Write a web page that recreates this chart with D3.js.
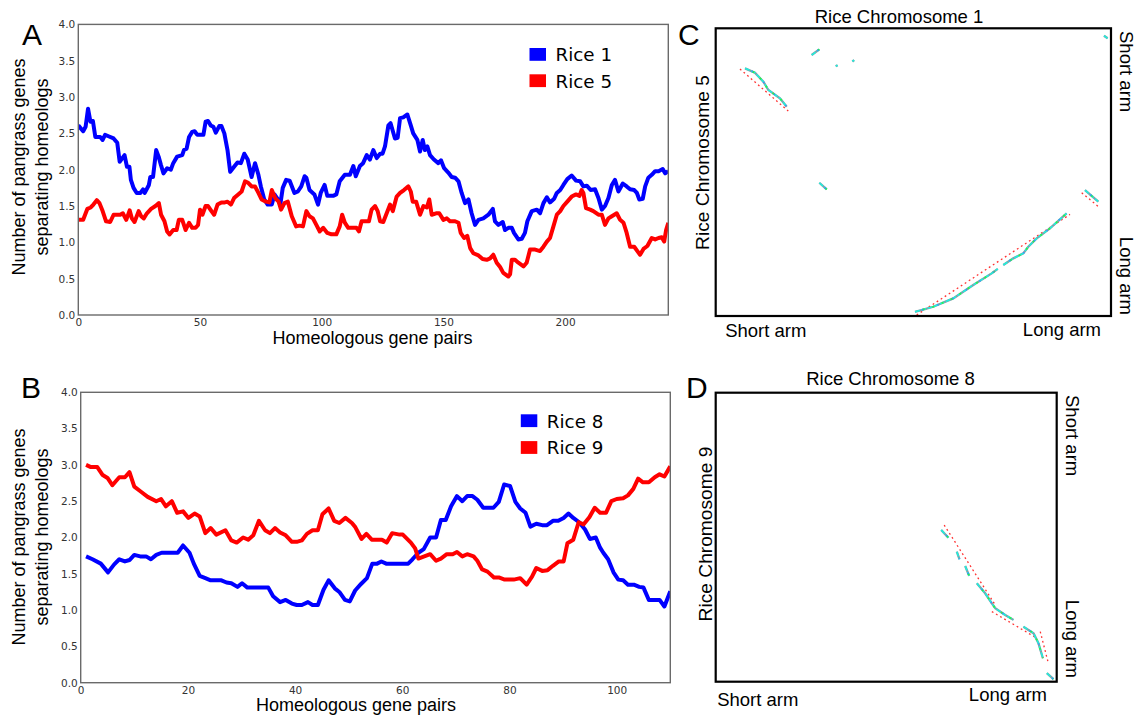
<!DOCTYPE html>
<html>
<head>
<meta charset="utf-8">
<script src="https://cdn.jsdelivr.net/npm/d3@7/dist/d3.min.js"></script>
<style>
  html, body { margin: 0; padding: 0; background: #fff; }
  svg { display: block; }
</style>
</head>
<body>
<svg id="fig" width="1135" height="719"></svg>
<script>
// ---- Sliding-window counts of pangrass genes separating homeolog pairs ----
// Each entry: [homeologous gene pair index, number of pangrass genes]
const rice1 = [[0,2.61],[2,2.53],[3,2.59],[4,2.84],[5,2.66],[6,2.67],[7,2.45],[9,2.45],[10,2.41],[11,2.48],[12.4,2.46],[14.5,2.43],[16,2.37],[17,2.11],[19,2.20],[20,2.04],[21,2.04],[21.6,1.86],[22.7,1.75],[24,1.68],[25.5,1.68],[26.6,1.73],[27.3,1.68],[29,1.79],[29.6,1.90],[30.7,1.90],[32,2.27],[33,2.18],[34,2.06],[35,1.95],[36.5,2.02],[38,2.0],[39,2.09],[40.6,2.18],[42.7,2.20],[43.4,2.27],[44.5,2.29],[45.5,2.45],[46.8,2.52],[47.8,2.53],[48.9,2.48],[51.4,2.48],[52.3,2.66],[53.3,2.67],[54.4,2.61],[55.5,2.59],[56.5,2.51],[57.9,2.60],[58.8,2.60],[60,2.50],[61.3,2.27],[62.4,1.97],[64,2.04],[65.4,2.10],[66.8,2.09],[68.2,2.22],[69.6,2.14],[71.2,1.90],[72.6,2.09],[74,1.93],[75,1.77],[76.4,1.59],[77.8,1.52],[79.5,1.52],[80.6,1.66],[82,1.59],[83,1.52],[84,1.75],[85.4,1.86],[86.8,1.85],[88.8,1.68],[90.2,1.70],[91.6,1.77],[93,1.91],[93.7,1.89],[95,1.72],[97,1.66],[98.5,1.52],[99.6,1.68],[101.2,1.79],[102.3,1.64],[104.7,1.64],[106,1.66],[107.4,1.84],[109.5,1.93],[111.6,1.93],[113,2.05],[114,1.91],[115.7,2.05],[117,2.09],[118.5,2.20],[119.8,2.14],[121.2,2.27],[122.6,2.16],[124,2.22],[125,2.22],[126,2.32],[127.4,2.61],[128.3,2.64],[130.1,2.43],[131.2,2.44],[132.2,2.71],[133.5,2.72],[135.2,2.76],[136.6,2.61],[137.6,2.50],[139.3,2.41],[140.4,2.25],[141.5,2.41],[142.4,2.27],[143.4,2.32],[144.5,2.20],[146.1,2.14],[147.9,2.09],[149,2.13],[150.3,2.02],[152,1.96],[153.4,1.90],[154.8,1.89],[156.2,1.84],[157.5,1.68],[158.9,1.54],[160.3,1.59],[161.6,1.40],[163,1.24],[164.4,1.31],[166.4,1.33],[168.5,1.38],[170.3,1.46],[171.2,1.29],[172.6,1.24],[174.4,1.28],[175.3,1.17],[176.7,1.20],[178.1,1.20],[179,1.13],[180.8,1.04],[182.2,1.05],[183.5,1.13],[184.5,1.29],[186.3,1.43],[188.4,1.45],[189.7,1.40],[191.1,1.54],[192.5,1.62],[193.8,1.55],[195.5,1.60],[196.6,1.68],[198,1.72],[199.3,1.79],[200.9,1.87],[202.7,1.92],[204.5,1.85],[206.2,1.84],[207.5,1.77],[208.9,1.78],[210.5,1.72],[212.3,1.73],[213.7,1.61],[215.1,1.45],[216.4,1.50],[217.8,1.61],[219.2,1.79],[220.5,1.86],[221.9,1.70],[223.7,1.81],[225.3,1.77],[226.7,1.73],[228.4,1.72],[229.5,1.68],[230.5,1.59],[231.9,1.60],[232.9,1.77],[234.2,1.89],[235.6,1.93],[237,1.98],[238.4,1.98],[240.1,2.01],[241.1,1.95],[242.4,1.98]];

const rice5 = [[0,1.31],[2,1.31],[3.7,1.46],[5.1,1.48],[6.2,1.52],[7.6,1.58],[8.7,1.54],[10,1.43],[11.4,1.29],[13.1,1.28],[14.5,1.38],[17.2,1.38],[18.3,1.40],[19.7,1.31],[21.1,1.44],[22,1.33],[23.1,1.28],[24.8,1.43],[25.8,1.36],[26.9,1.33],[28.2,1.40],[29.9,1.46],[31.7,1.50],[33.1,1.54],[34,1.38],[35.4,1.29],[36.5,1.15],[37.5,1.11],[39,1.17],[40.4,1.17],[41.3,1.31],[42.7,1.31],[44.1,1.17],[45.5,1.27],[46.8,1.20],[48.2,1.20],[49.2,1.24],[50,1.45],[51,1.38],[52.3,1.50],[53.3,1.50],[54.7,1.43],[55.8,1.38],[57.2,1.52],[58.8,1.55],[60.2,1.55],[61.3,1.56],[62.7,1.52],[64,1.61],[65.7,1.66],[67.1,1.70],[68.5,1.84],[69.8,1.82],[71.2,1.77],[72.6,1.77],[74,1.68],[75.3,1.59],[77.1,1.56],[78.5,1.55],[79.5,1.72],[80.9,1.61],[82.3,1.56],[83.3,1.45],[84.7,1.54],[86.1,1.56],[87.7,1.36],[89.5,1.22],[90.9,1.23],[92.3,1.22],[93.7,1.43],[95,1.36],[96.4,1.33],[97.8,1.24],[99.2,1.15],[100.6,1.20],[102.3,1.13],[104,1.11],[106,1.11],[107.4,1.22],[108.4,1.38],[109.5,1.27],[110.9,1.20],[112.3,1.20],[114.3,1.20],[115.3,1.15],[116.4,1.29],[117.8,1.29],[119.4,1.29],[120.5,1.45],[121.9,1.50],[123,1.43],[124,1.29],[125.3,1.28],[126.7,1.40],[128.1,1.52],[129.2,1.43],[130.8,1.63],[132.2,1.68],[133.8,1.72],[135.6,1.77],[136.6,1.70],[137.4,1.56],[138.8,1.56],[140.4,1.38],[141.8,1.50],[143.2,1.48],[144.2,1.59],[145.2,1.38],[147,1.40],[148.3,1.40],[150,1.31],[151.4,1.33],[152.7,1.29],[154.8,1.29],[156.2,1.27],[157.1,1.13],[158.5,1.06],[159.8,1.09],[161,0.92],[162.3,0.85],[164.4,0.82],[166.1,0.77],[167.8,0.76],[169.2,0.78],[170.5,0.83],[171.9,0.72],[173.3,0.66],[174.6,0.58],[176.7,0.53],[177.4,0.56],[178.1,0.76],[179.4,0.76],[180.8,0.72],[182.9,0.67],[184.2,0.72],[185.6,0.90],[187.7,0.90],[189.7,0.88],[191.1,0.94],[192.5,1.01],[193.8,1.06],[195.2,1.22],[196.6,1.38],[198,1.43],[199.3,1.50],[200.9,1.56],[202.7,1.63],[204.5,1.66],[205.9,1.64],[206.8,1.72],[207.5,1.68],[208.6,1.47],[210.3,1.45],[211.6,1.43],[213.7,1.38],[215.1,1.38],[216.4,1.24],[217.8,1.33],[219.2,1.36],[221.2,1.40],[222.6,1.31],[224,1.27],[225.3,1.13],[226.7,0.94],[228.4,0.94],[229.7,0.88],[230.8,0.83],[232.2,0.91],[233.8,0.95],[235.6,1.06],[237,1.04],[238.4,1.06],[239.7,1.07],[240.7,1.01],[241.5,1.17],[242.4,1.27]];

const rice8 = [[1,1.74],[2.2,1.70],[3.75,1.64],[5.1,1.52],[6.25,1.63],[7.2,1.70],[8.25,1.67],[9.1,1.69],[10,1.76],[11.1,1.74],[12.2,1.74],[13.1,1.70],[14.1,1.76],[15.1,1.79],[16.25,1.79],[18.1,1.79],[19.1,1.89],[20.3,1.79],[21.1,1.64],[22.2,1.47],[23.25,1.44],[24.25,1.41],[26.25,1.41],[27.2,1.38],[28.1,1.37],[29.25,1.32],[30.1,1.37],[31.1,1.31],[32.2,1.31],[35,1.31],[35.9,1.19],[37.2,1.11],[38.25,1.14],[39.4,1.09],[40.3,1.07],[41.25,1.07],[42.4,1.11],[43.25,1.07],[44.25,1.07],[45.3,1.28],[46.25,1.41],[47.4,1.30],[48.25,1.25],[49.3,1.14],[50.2,1.12],[51.2,1.27],[52.3,1.36],[53.4,1.44],[54.4,1.64],[55.3,1.64],[56.1,1.67],[57,1.64],[61.1,1.64],[61.9,1.70],[63,1.79],[64,1.84],[65.2,2.00],[66.3,2.00],[67.2,2.24],[68.1,2.24],[69.1,2.43],[70.2,2.57],[71.2,2.50],[72.1,2.57],[73.1,2.57],[74,2.52],[75.1,2.41],[77,2.41],[78,2.49],[79,2.73],[80.1,2.71],[81.1,2.49],[82,2.40],[83,2.34],[83.9,2.15],[85,2.19],[86.1,2.17],[87,2.17],[88.1,2.23],[89.1,2.23],[90.1,2.27],[91,2.33],[91.9,2.27],[93,2.21],[94.1,2.11],[95,1.98],[96.1,2.00],[96.9,1.86],[97.5,1.79],[98.4,1.70],[99.4,1.52],[100.3,1.42],[101.2,1.41],[102.1,1.35],[103.2,1.35],[104.2,1.32],[105,1.31],[106,1.14],[108,1.14],[108.9,1.05],[110,1.26]];

const rice9 = [[1,3.00],[1.9,2.97],[3.1,2.97],[4.1,2.86],[5,2.82],[5.9,2.72],[7.2,2.83],[8.25,2.83],[9.1,2.90],[10,2.70],[11.25,2.63],[12.5,2.56],[14.1,2.50],[15,2.53],[15.9,2.43],[17,2.50],[18,2.34],[19.1,2.36],[20.1,2.27],[21.25,2.33],[22.2,2.29],[23.25,2.06],[24.25,2.13],[25.3,2.04],[27,2.10],[28.1,1.96],[29.1,1.93],[30.3,2.00],[31.25,1.97],[32.2,2.03],[33.25,2.23],[34.4,2.10],[35.3,2.06],[36.25,2.13],[37.2,2.07],[38.25,2.03],[39.4,1.94],[40.3,1.94],[41.25,1.96],[42.2,2.05],[43.25,2.10],[44.25,2.10],[45.1,2.32],[46.25,2.40],[47.3,2.23],[48.25,2.20],[49.4,2.27],[50.6,2.20],[51.25,2.14],[52.4,1.98],[53.3,2.05],[54.3,1.97],[56.2,1.97],[57.1,1.93],[58.1,2.06],[59.5,2.04],[60.1,2.04],[61.6,1.93],[62.4,1.85],[63,1.71],[64.1,1.74],[65.2,1.77],[66.3,1.68],[67.2,1.71],[68.3,1.77],[69.4,1.77],[70.2,1.80],[71.2,1.74],[72.1,1.77],[73.3,1.74],[74,1.68],[74.9,1.56],[75.9,1.53],[77.1,1.45],[78,1.45],[79.1,1.42],[80.8,1.42],[82,1.44],[83.2,1.35],[84.2,1.46],[85,1.58],[86.1,1.54],[87.1,1.55],[88.1,1.61],[89.2,1.67],[90.1,1.67],[90.8,1.92],[91.9,1.97],[92.9,2.21],[93.8,2.18],[94.9,2.28],[95.9,2.41],[96.9,2.34],[98,2.34],[99,2.50],[100,2.53],[101.2,2.54],[102.1,2.58],[103.1,2.67],[104,2.81],[104.9,2.76],[106,2.76],[107.1,2.83],[108,2.87],[108.9,2.84],[110,2.98]];

const yTicks = [0, 0.5, 1, 1.5, 2, 2.5, 3, 3.5, 4];
const xTicksA = [0, 50, 100, 150, 200];
const xTicksB = [0, 20, 40, 60, 80, 100];
const legendA = ["Rice 1", "Rice 5"];
const legendB = ["Rice 8", "Rice 9"];

// ---- Syntenic dot plots (positions in Mb along each chromosome) ----
const chr1Length = 43.3, chr5Length = 29.9, chr8Length = 28.4, chr9Length = 23.0;

// collinear gene blocks, chromosome 1 (x) vs chromosome 5 (y)
const blocks1v5 = [
  [[3.21,4.16],[4.30,4.61],[5.22,5.55],[5.77,6.41],[7.04,7.28],[7.78,8.15]],
  [[10.51,2.78],[11.35,2.19]],
  [[13.15,3.95],[13.35,3.83]],
  [[14.97,3.45],[15.17,3.30]],
  [[11.35,16.05],[12.16,16.74]],
  [[42.53,0.77],[42.93,1.04]],
  [[40.45,16.81],[41.91,18.02]],
  [[21.83,29.46],[23.83,28.94],[26.02,28.07],[28.21,26.68],[30.23,25.47],[30.9,25.0]],
  [[31.5,24.6],[32.60,23.91],[33.69,23.39],[34.24,22.70],[35.16,21.83],[36.61,20.79],[38.44,19.23]]
];
// fitted homeologous segments, chromosome 1 vs chromosome 5
const fits1v5 = [
  [[2.66,4.23],[7.95,8.60]],
  [[40.09,17.09],[42.02,18.61]],
  [[22.01,29.80],[38.81,19.34]]
];

// collinear gene blocks, chromosome 8 (x) vs chromosome 9 (y)
const blocks8v9 = [
  [[18.78,10.92],[19.38,11.54]],
  [[20.08,12.65],[20.30,13.25]],
  [[20.78,13.79],[21.11,14.58]],
  [[21.75,15.17],[22.44,15.96],[23.0,16.76],[23.28,17.15],[24.11,17.69],[24.80,18.08]],
  [[25.63,18.62],[26.47,19.14],[26.88,19.94],[27.25,21.13]],
  [[27.58,22.32],[28.13,22.80]]
];
const fits8v9 = [
  [[19.03,10.53],[23.28,16.89]],
  [[23.0,17.42],[26.75,19.54]],
  [[27.03,19.01],[27.67,21.40]]
];

const svg = d3.select("#fig");
const TICK_FONT = "'DejaVu Sans', sans-serif";
const LABEL_FONT = "'Liberation Sans', Arial, sans-serif";

// ---------- line panels ----------
function linePanel(cfg) {
  const x = d3.scaleLinear().domain(cfg.xDomain).range([cfg.left, cfg.right]);
  const y = d3.scaleLinear().domain([0, 4]).range([cfg.bottom, cfg.top]);
  const g = svg.append("g");

  const clipId = "clip" + cfg.letter;
  svg.append("clipPath").attr("id", clipId)
    .append("rect").attr("x", cfg.left).attr("y", cfg.top - 3)
    .attr("width", cfg.right - cfg.left).attr("height", cfg.bottom - cfg.top + 3);

  const line = d3.line().x(d => x(d[0])).y(d => y(d[1]));
  cfg.series.forEach(s => {
    g.append("path").datum(s.data)
      .attr("clip-path", `url(#${clipId})`)
      .attr("d", line)
      .attr("fill", "none")
      .attr("stroke", s.color)
      .attr("stroke-width", 4)
      .attr("stroke-linejoin", "round")
      .attr("stroke-linecap", "butt");
  });

  // frame
  g.append("rect")
    .attr("x", cfg.left).attr("y", cfg.top)
    .attr("width", cfg.right - cfg.left).attr("height", cfg.bottom - cfg.top)
    .attr("fill", "none").attr("stroke", "#6a6a6a").attr("stroke-width", 1.4);

  const yAxis = g.append("g").attr("transform", `translate(${cfg.left},0)`)
    .call(d3.axisLeft(y).tickValues(yTicks).tickSize(0).tickPadding(3).tickFormat(d3.format(".1f")));
  const xAxis = g.append("g").attr("transform", `translate(0,${cfg.bottom})`)
    .call(d3.axisBottom(x).tickValues(cfg.xTicks).tickSize(0).tickPadding(4).tickFormat(d3.format("d")));
  [yAxis, xAxis].forEach(a => {
    a.select(".domain").remove();
    a.selectAll("text").attr("font-family", TICK_FONT).attr("font-size", 10.5).attr("fill", "#333");
  });

  // axis titles
  g.append("text")
    .attr("x", cfg.xTitleX).attr("y", cfg.bottom + 28.5)
    .attr("text-anchor", "middle")
    .attr("font-family", LABEL_FONT).attr("font-size", 18).attr("fill", "#000")
    .text("Homeologous gene pairs");
  const yt = g.append("text")
    .attr("transform", `translate(25,${cfg.yTitleY}) rotate(-90)`)
    .attr("text-anchor", "middle")
    .attr("font-family", LABEL_FONT).attr("font-size", 18).attr("fill", "#000");
  yt.append("tspan").attr("x", 0).attr("y", 0).text("Number of pangrass genes");
  yt.append("tspan").attr("x", 0).attr("y", 23).text("separating homeologs");

  // panel letter
  g.append("text").attr("x", cfg.letterX).attr("y", cfg.letterY)
    .attr("font-family", LABEL_FONT).attr("font-size", 30).attr("fill", "#000")
    .text(cfg.letter);

  // legend
  cfg.series.forEach((s, i) => {
    const ly = cfg.legendY + i * cfg.legendStep;
    g.append("rect").attr("x", cfg.legendX).attr("y", ly - 13.3)
      .attr("width", 16.5).attr("height", 12.8).attr("fill", s.color);
    g.append("text").attr("x", cfg.legendX + 26).attr("y", ly)
      .attr("font-family", TICK_FONT).attr("font-size", 18.3).attr("fill", "#000")
      .text(s.name);
  });
}

linePanel({
  letter: "A", letterX: 22, letterY: 45,
  left: 78.3, right: 668.3, top: 24.4, bottom: 315,
  xDomain: [0, 242.4], xTicks: xTicksA,
  xTitleX: 372.5, yTitleY: 167,
  legendX: 529.5, legendY: 61.3, legendStep: 26.3,
  series: [
    { name: legendA[0], data: rice1, color: "#0000ff" },
    { name: legendA[1], data: rice5, color: "#ff0000" }
  ]
});

linePanel({
  letter: "B", letterX: 21, letterY: 398,
  left: 80.7, right: 670.3, top: 392.3, bottom: 682.7,
  xDomain: [0, 110], xTicks: xTicksB,
  xTitleX: 356, yTitleY: 537,
  legendX: 520.8, legendY: 427.6, legendStep: 26.8,
  series: [
    { name: legendB[0], data: rice8, color: "#0000ff" },
    { name: legendB[1], data: rice9, color: "#ff0000" }
  ]
});

// ---------- dot plot panels ----------
function dotPanel(cfg) {
  const x = d3.scaleLinear().domain([0, cfg.xLen]).range([cfg.left, cfg.right]);
  const y = d3.scaleLinear().domain([0, cfg.yLen]).range([cfg.top, cfg.bottom]);
  const g = svg.append("g");
  const line = d3.line().x(d => x(d[0])).y(d => y(d[1]));

  // fitted segments (red dashed)
  g.selectAll("path.fit").data(cfg.fits).join("path")
    .attr("class", "fit")
    .attr("d", line).attr("fill", "none")
    .attr("stroke", "#ff3030").attr("stroke-width", 1.3)
    .attr("stroke-dasharray", "1.8 3");

  // gene blocks: mixed cyan / green / grey dots along each block
  const layers = [
    { color: "#8a9aa6", width: 2.3, dash: null, offset: 0 },
    { color: "#1ff0dc", width: 1.6, dash: "5 1.5", offset: 0 },
    { color: "#2cf04a", width: 1.8, dash: "2 8", offset: 2 },
    { color: "#3d8cff", width: 1.8, dash: "1.2 15", offset: 9 }
  ];
  layers.forEach(l => {
    g.selectAll(null).data(cfg.blocks).join("path")
      .attr("d", line).attr("fill", "none")
      .attr("stroke", l.color).attr("stroke-width", l.width)
      .attr("stroke-linecap", "butt")
      .attr("stroke-dasharray", l.dash)
      .attr("stroke-dashoffset", l.offset);
  });

  // frame
  g.append("rect")
    .attr("x", cfg.left).attr("y", cfg.top)
    .attr("width", cfg.right - cfg.left).attr("height", cfg.bottom - cfg.top)
    .attr("fill", "none").attr("stroke", "#000").attr("stroke-width", 2.2);

  const txt = (sel) => sel.attr("font-family", LABEL_FONT).attr("font-size", 18.5).attr("fill", "#000");

  g.append("text").attr("x", cfg.titleX).attr("y", cfg.titleY)
    .attr("text-anchor", "middle").call(txt).text(cfg.title);
  g.append("text").attr("x", cfg.letterX).attr("y", cfg.letterY)
    .attr("font-family", LABEL_FONT).attr("font-size", 30).attr("fill", "#000").text(cfg.letter);

  // x arm labels
  g.append("text").attr("x", cfg.left + cfg.shortXOff).attr("y", cfg.shortY).call(txt).text("Short arm");
  g.append("text").attr("x", cfg.longXEnd).attr("y", cfg.longY)
    .attr("text-anchor", "end").call(txt).text("Long arm");

  // y-axis label (left)
  g.append("text")
    .attr("transform", `translate(${cfg.yLabelX},${cfg.yLabelY}) rotate(-90)`)
    .attr("text-anchor", "middle").call(txt).attr("font-size", 19.2).text(cfg.yTitle);

  // y arm labels (right side, reading downward)
  g.append("text")
    .attr("transform", `translate(${cfg.armX},${cfg.shortArmY}) rotate(90)`)
    .call(txt).text("Short arm");
  g.append("text")
    .attr("transform", `translate(${cfg.armX},${cfg.longArmY}) rotate(90)`)
    .attr("text-anchor", "end").call(txt).text("Long arm");
}

dotPanel({
  letter: "C", letterX: 678, letterY: 45,
  title: "Rice Chromosome 1", titleX: 899, titleY: 22.5,
  yTitle: "Rice Chromosome 5", yLabelX: 709, yLabelY: 162.5,
  left: 715.7, right: 1111, top: 28.3, bottom: 316,
  xLen: chr1Length, yLen: chr5Length,
  blocks: blocks1v5, fits: fits1v5,
  shortXOff: 9.5, shortY: 337, longXEnd: 1101, longY: 336,
  armX: 1119.5, shortArmY: 31, longArmY: 315
});

dotPanel({
  letter: "D", letterX: 686, letterY: 398,
  title: "Rice Chromosome 8", titleX: 890.5, titleY: 385,
  yTitle: "Rice Chromosome 9", yLabelX: 712, yLabelY: 534,
  left: 715.7, right: 1056.7, top: 392.7, bottom: 681.7,
  xLen: chr8Length, yLen: chr9Length,
  blocks: blocks8v9, fits: fits8v9,
  shortXOff: 1.5, shortY: 706, longXEnd: 1047, longY: 701,
  armX: 1065.5, shortArmY: 395, longArmY: 678
});
</script>
</body>
</html>
